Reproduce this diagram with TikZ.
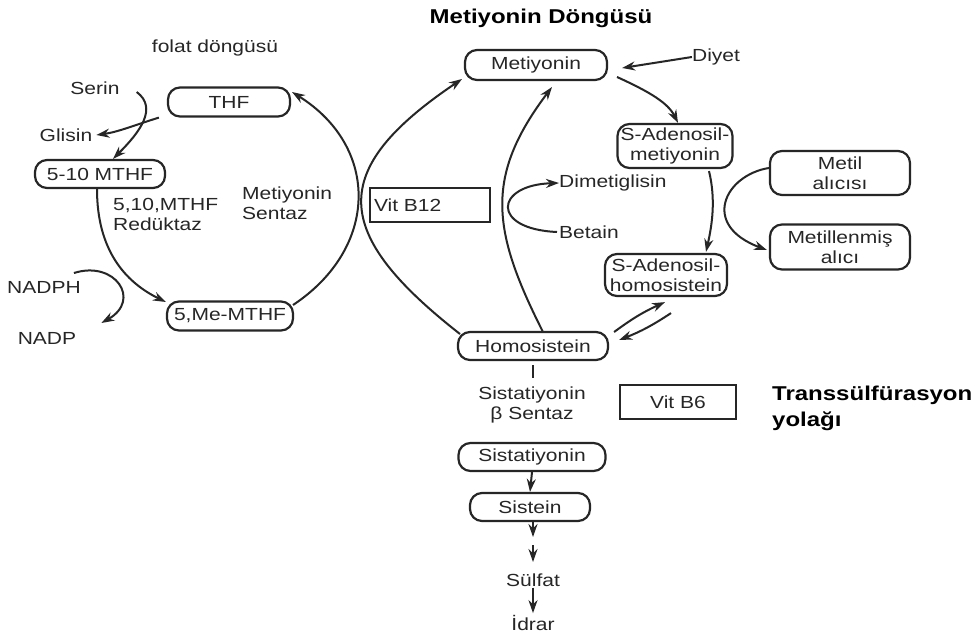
\documentclass[tikz,border=0pt]{standalone}
\usepackage{fontspec}
\setmainfont{Liberation Sans}[FakeStretch=1.2]
\usetikzlibrary{arrows.meta}
\definecolor{ink}{HTML}{262626}
\tikzset{
  every node/.style={font=\fontsize{17.5}{20}\selectfont, text=ink},
  pill/.style={draw=ink, line width=2.2pt, rounded corners=12pt, align=center, inner sep=0pt},
  rectbox/.style={draw=ink, line width=2pt, inner sep=0pt},
  conn/.style={draw=ink, line width=2pt},
  arr/.style={conn, -{Stealth[length=13pt,width=9pt]}},
  lbl/.style={align=center, inner sep=0pt},
  boldlbl/.style={font=\fontsize{20}{26}\selectfont\bfseries, text=black, inner sep=0pt, align=left}
}
\begin{document}
\begin{tikzpicture}[x=1pt,y=-1pt]
\useasboundingbox[fill=white] (0,0) rectangle (979,637);

% titles
\node[boldlbl] (title) at (541,18) {Metiyonin Döngüsü};
\node[lbl] (folat) at (215,48) {folat döngüsü};
\node[boldlbl, anchor=west] (trans) at (772,408) {Transsülfürasyon\\yolağı};

% methionine cycle nodes
\node[pill, minimum width=142pt, minimum height=30pt] (met) at (536,65) {Metiyonin};
\node[lbl] (diyet) at (716,57) {Diyet};
\node[pill, minimum width=115pt, minimum height=44pt] (sam) at (675,146) {S-Adenosil-\\metiyonin};
\node[pill, minimum width=140pt, minimum height=44pt] (metil) at (840,173) {Metil\\alıcısı};
\node[pill, minimum width=140pt, minimum height=45pt] (metill) at (840,247) {Metillenmiş\\alıcı};
\node[pill, minimum width=122pt, minimum height=42pt] (sah) at (666,275) {S-Adenosil-\\homosistein};
\node[lbl, anchor=west] (dimet) at (559,183) {Dimetiglisin};
\node[lbl, anchor=west] (betain) at (559,232) {Betain};
\node[rectbox, minimum height=34pt, text width=112pt, inner xsep=4pt, align=left] (vb12) at (430,205) {Vit B12};
\node[pill, minimum width=150pt, minimum height=28pt] (homo) at (533,346) {Homosistein};

% transsulfuration
\node[lbl] (sbs) at (532,405) {Sistatiyonin\\β Sentaz};
\node[rectbox, minimum width=116pt, minimum height=34pt] (vb6) at (678,402) {Vit B6};
\node[pill, minimum width=147pt, minimum height=28pt] (sistat) at (532,457) {Sistatiyonin};
\node[pill, minimum width=120pt, minimum height=28pt] (sistein) at (530,507) {Sistein};
\node[lbl] (sulfat) at (533,580) {Sülfat};
\node[lbl] (idrar) at (533,623) {İdrar};

% folate cycle nodes
\node[pill, minimum width=122pt, minimum height=29pt] (thf) at (229,102) {THF};
\node[pill, minimum width=130pt, minimum height=28pt] (m510) at (100,174) {5-10 MTHF};
\node[pill, minimum width=126pt, minimum height=29pt] (me) at (230,316) {5,Me-MTHF};
\node[lbl] (serin) at (95,88) {Serin};
\node[lbl] (glisin) at (66,135) {Glisin};
\node[lbl] (nadph) at (44,287) {NADPH};
\node[lbl] (nadp) at (47,338) {NADP};
\node[lbl, anchor=west, align=left] (msentaz) at (242,203) {Metiyonin\\Sentaz};
\node[lbl, anchor=west, align=left] (redk) at (113,214) {5,10,MTHF\\Redüktaz};

% big arcs
\draw[arr] ([xshift=-73pt,yshift=12pt]homo.center) .. controls (331,233) and (327,170) .. ([xshift=-74pt,yshift=-14pt]met.center);
\draw[arr] ([xshift=63pt,yshift=11pt]me.center) .. controls (379,248) and (380,147) .. ([xshift=63pt,yshift=10pt]thf.center);
\draw[arr] ([xshift=10pt,yshift=14pt]homo.center) .. controls (492,231) and (484,177) .. ([xshift=16pt,yshift=-22pt]met.center);

% methionine cycle connectors
\draw[arr] (diyet.west) -- ([xshift=14pt,yshift=-3pt]met.east);
\draw[arr] ([xshift=81pt,yshift=-12pt]met.center) .. controls (650,92) and (668,103) .. ([xshift=3pt]sam.north);
\draw[arr] ([xshift=34pt,yshift=-2pt]sam.south) .. controls (716,200) and (712,225) .. ([xshift=40pt,yshift=1pt]sah.north);
\draw[arr] ([yshift=5pt]metil.west) .. controls (725,175) and (700,225) .. ([xshift=-2pt,yshift=-3pt]metill.west);
\draw[arr] ([xshift=-2pt]betain.west) .. controls (490,229) and (495,185) .. (dimet.west);
\draw[arr] ([xshift=5pt,yshift=14pt]homo.east) to[bend left=6] ([xshift=-1pt,yshift=-5pt]sah.south);
\draw[arr] ([xshift=5pt,yshift=-16pt]sah.south) to[bend left=6] ([xshift=10pt,yshift=6pt]homo.east);

% transsulfuration connectors
\draw[conn] ([yshift=-4pt]homo.south) -- ([yshift=-17pt]homo.south);
\draw[arr] (sistat.south) -- (sistein.north);
\coordinate (s1) at (533,537);
\coordinate (s2) at (533,545);
\coordinate (s3) at (533,562);
\draw[arr] ([xshift=3pt]sistein.south) -- (s1);
\draw[arr] (s2) -- (s3);
\draw[arr] ([yshift=-1pt]sulfat.south) -- ([yshift=2pt]idrar.north);

% folate connectors
\draw[arr] ([xshift=17pt,yshift=-4pt]serin.east) .. controls (158,108) and (140,132) .. ([xshift=13pt]m510.north);
\draw[arr] ([xshift=-8pt]thf.south west) .. controls (135,125) and (118,132) .. ([xshift=4pt]glisin.east);
\draw[arr] ([xshift=-3pt]m510.south) .. controls (97,250) and (125,282) .. ([yshift=14pt]me.west);
\draw[arr] ([xshift=-7pt,yshift=14pt]nadph.east) .. controls (115,260) and (142,300) .. ([xshift=25pt,yshift=15pt]nadp.east);
\end{tikzpicture}
\end{document}
